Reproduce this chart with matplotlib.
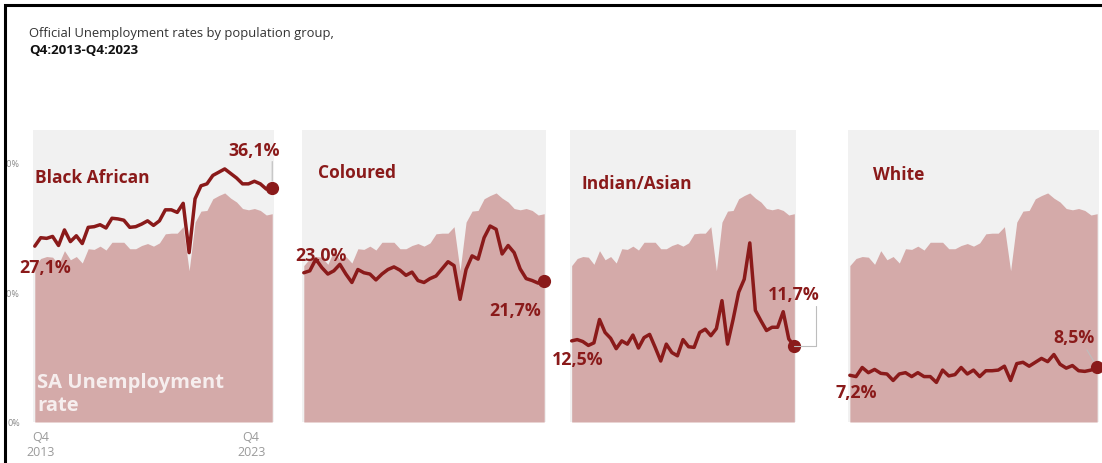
import numpy as np
import matplotlib.pyplot as plt
from matplotlib.patches import Rectangle
from matplotlib.transforms import ScaledTranslation, Bbox

# quarterly data Q4:2013 - Q4:2023
sa_rate = [24.1, 25.2, 25.5, 25.4, 24.3, 26.4, 25.0, 25.5, 24.5, 26.7, 26.6, 27.1, 26.5,
           27.7, 27.7, 27.7, 26.7, 26.7, 27.2, 27.5, 27.1, 27.6, 29.0, 29.1, 29.1, 30.1,
           23.3, 30.8, 32.5, 32.6, 34.4, 34.9, 35.3, 34.5, 33.9, 32.9, 32.7, 32.9, 32.6,
           31.9, 32.1]
black_african = [27.1, 28.4, 28.3, 28.6, 27.2, 29.6, 27.8, 28.7, 27.5, 30.0, 30.1, 30.4, 29.9,
                 31.4, 31.3, 31.1, 30.0, 30.1, 30.5, 31.0, 30.3, 31.0, 32.7, 32.7, 32.3, 33.7,
                 26.1, 34.4, 36.4, 36.7, 38.0, 38.5, 39.0, 38.3, 37.6, 36.7, 36.7, 37.1, 36.7,
                 35.9, 36.1]
coloured = [23.0, 23.3, 25.1, 23.8, 22.8, 23.3, 24.3, 22.8, 21.5, 23.5, 23.0, 22.8, 21.9,
            22.8, 23.5, 23.9, 23.4, 22.6, 23.1, 21.8, 21.5, 22.1, 22.5, 23.6, 24.7, 24.1,
            18.9, 23.5, 25.6, 25.1, 28.4, 30.2, 29.7, 25.9, 27.2, 26.1, 23.6, 22.1, 21.8,
            21.4, 21.7]
indian_asian = [12.5, 12.7, 12.4, 11.8, 12.2, 15.8, 13.8, 12.9, 11.3, 12.5, 12.0, 13.4, 11.4,
                13.0, 13.5, 11.5, 9.4, 12.0, 10.7, 10.2, 12.7, 11.6, 11.5, 13.8, 14.3, 13.3,
                14.4, 18.7, 12.0, 15.8, 20.0, 22.0, 27.6, 17.2, 15.6, 14.1, 14.6, 14.6, 17.0,
                12.8, 11.7]
white = [7.2, 7.0, 8.4, 7.6, 8.1, 7.5, 7.4, 6.4, 7.4, 7.6, 7.0, 7.6, 7.0, 7.0, 6.1, 8.0,
         7.1, 7.3, 8.4, 7.4, 8.0, 7.0, 7.9, 7.9, 8.0, 8.6, 6.4, 9.0, 9.2, 8.6, 9.2, 9.8,
         9.3, 10.4, 8.9, 8.3, 8.7, 7.9, 7.8, 8.0, 8.5]

groups = ['Black African', 'Coloured', 'Indian/Asian', 'White']
series = [black_african, coloured, indian_asian, white]
x_labels = ['Q4\n2013', 'Q4\n2023']
y_ticks = [0, 20, 40]
y_ticklabels = ['0%', '20%', '40%']

plt.rcParams['font.family'] = ['Open Sans', 'DejaVu Sans']

LINE = '#8a1a1a'
AREA = '#d4aaa9'
BG = '#f1f1f1'

W, H = 1102, 464
fig = plt.figure(figsize=(W / 100, H / 100), dpi=100)

def px_axes(x0, y0, x1, y1):
    return fig.add_axes([x0 / W, (H - y1) / H, (x1 - x0) / W, (y1 - y0) / H])

boxes = [(33, 131, 274, 423), (302, 131, 546, 423), (570, 131, 796, 423), (848, 131, 1099, 423)]
# panel title spot (axes fraction), start label offset, end label offset (pixels)
name_pos = [(0.008, 0.839), (0.066, 0.856), (0.053, 0.818), (0.10, 0.849)]
start_off = [(10, -21), (17, 18), (6, -18), (6, -17)]
end_off = [(-18, 38), (-29, -29), (-1, 52), (-23, 30)]

def fmt(v):
    return f'{v:.1f}'.replace('.', ',') + '%'

x = np.arange(len(sa_rate))
axes = []
for i, (box, name, vals) in enumerate(zip(boxes, groups, series)):
    ax = px_axes(*box)
    axes.append(ax)
    ax.set_facecolor(BG)
    ax.fill_between(x, sa_rate, color=AREA, lw=0)
    ax.plot(x, vals, color=LINE, lw=2.5, solid_joinstyle='round', solid_capstyle='round',
            clip_on=False)
    ax.plot(x[-1], vals[-1], 'o', color=LINE, ms=8.5, clip_on=False)
    ax.set_xlim(-0.3, 40.3)
    ax.set_ylim(0, 45)
    for s in ax.spines.values():
        s.set_visible(False)
    ax.set_xticks([])
    ax.set_yticks([])

    ax.text(name_pos[i][0], name_pos[i][1], name, transform=ax.transAxes,
            color=LINE, fontsize=12.5, fontweight='bold', va='center', ha='left')

    ax.annotate(fmt(vals[0]), xy=(x[0], vals[0]), xytext=start_off[i],
                textcoords='offset pixels', ha='center', va='center',
                color=LINE, fontsize=12.8, fontweight='bold', annotation_clip=False)

    if i == 0:
        ap = dict(arrowstyle='-', color='#bdbdbd', lw=0.8, relpos=(0.85, 0), shrinkA=0, shrinkB=5)
    elif i == 2:
        ap = dict(arrowstyle='-', color='#bdbdbd', lw=0.8, relpos=(0.93, 0), shrinkA=0, shrinkB=0,
                  connectionstyle='angle,angleA=90,angleB=0,rad=0')
    elif i == 3:
        ap = dict(arrowstyle='-', color='#bdbdbd', lw=0.8, relpos=(0.75, 0), shrinkA=1, shrinkB=5)
    else:
        ap = None
    ax.annotate(fmt(vals[-1]), xy=(x[-1], vals[-1]), xytext=end_off[i],
                textcoords='offset pixels', ha='center', va='center',
                color=LINE, fontsize=12.8, fontweight='bold', annotation_clip=False,
                arrowprops=ap, zorder=5)

ax1 = axes[0]
ax1.text(0.017, 0.096, 'SA Unemployment\nrate', transform=ax1.transAxes, color='#f6eeee',
         fontsize=14.5, fontweight='bold', va='center', ha='left', linespacing=1.2)

# axis labels on the first panel
ax1.set_yticks(y_ticks)
ax1.set_yticklabels(y_ticklabels)
ax1.set_xticks([x[0], x[-1]])
ax1.set_xticklabels(x_labels)
ax1.tick_params(axis='y', length=0, pad=9.5, labelsize=6.5, labelcolor='#8a8a8a')
ax1.tick_params(axis='x', length=0, pad=5.5, labelsize=9, labelcolor='#9a9a9a')
clip = Bbox.from_extents(7, 0, W, H)
for lbl in ax1.get_yticklabels():
    lbl.set_clip_box(clip)
    lbl.set_clip_on(True)
xl = ax1.get_xticklabels()
xl[0].set_transform(xl[0].get_transform() + ScaledTranslation(0.06, 0, fig.dpi_scale_trans))
xl[1].set_transform(xl[1].get_transform() + ScaledTranslation(-0.21, 0, fig.dpi_scale_trans))
for lbl in xl:
    lbl.set_linespacing(1.2)

# title
fig.text(29 / W, 1 - 33 / H, 'Official Unemployment rates by population group,',
         fontsize=9.4, color='#333333', va='center', ha='left')
fig.text(29 / W, 1 - 50 / H, 'Q4:2013-Q4:2023', fontsize=9.6, fontweight='bold',
         color='#111111', va='center', ha='left')

# outer frame
fig.patches.append(Rectangle((5.3 / W, -0.1), 1.2, 1.1 - 5.7 / H, transform=fig.transFigure,
                             fill=False, ec='black', lw=2.2))

fig.savefig('out.png', dpi=100)
